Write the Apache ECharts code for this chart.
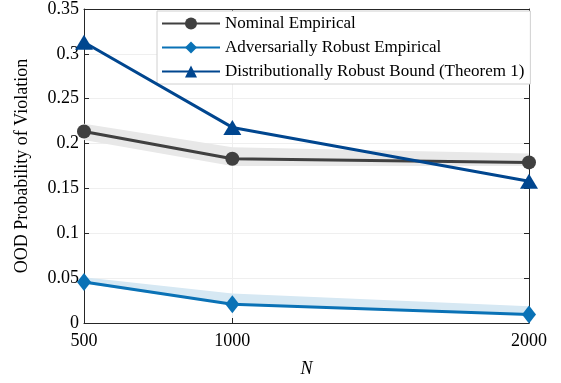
<!DOCTYPE html>
<html>
<head>
<meta charset="utf-8">
<script src="https://cdn.jsdelivr.net/npm/echarts@6/dist/echarts.min.js"></script>
<style>html,body{margin:0;padding:0;background:#fff}#c{width:561px;height:383px}</style>
</head>
<body>
<div id="c"></div>
<script>
var N = [500, 1000, 2000];
var nominal = [0.2135, 0.1830, 0.1790];
var nominalLow = [0.2040, 0.1750, 0.1750];
var nominalHigh = [0.2220, 0.1960, 0.1890];
var adversarial = [0.0456, 0.0210, 0.0095];
var advLow = [0.0440, 0.0200, 0.0090];
var advHigh = [0.0510, 0.0330, 0.0186];
var drBound = [0.3130, 0.2180, 0.1580];
var yTicks = [0, 0.05, 0.1, 0.15, 0.2, 0.25, 0.3, 0.35];

var FONT = '"Liberation Serif", "DejaVu Serif", serif';
function pairs(a){ return N.map(function(x,i){ return [x, a[i]]; }); }

function bandSeries(low, high, color){
  return {
    type:'custom', silent:true, z:1,
    data:[0],
    renderItem:function(params, api){
      var pts = [];
      for (var i=0;i<N.length;i++) pts.push(api.coord([N[i], high[i]]));
      for (var j=N.length-1;j>=0;j--) pts.push(api.coord([N[j], low[j]]));
      return {type:'polygon', shape:{points:pts}, style:{fill:color}};
    }
  };
}

var chart = echarts.init(document.getElementById('c'));
var axisLineStyle = {color:'#262626', width:1};
chart.setOption({
  animation:false,
  textStyle:{fontFamily:FONT},
  grid:{left:84, right:32, top:6, bottom:57.5, containLabel:false},
  legend:{
    data:['Nominal Empirical','Adversarially Robust Empirical','Distributionally Robust Bound (Theorem 1)'],
    orient:'vertical', left:157, top:11,
    itemWidth:58, itemHeight:15, itemGap:7,
    padding:[4,6,4,4],
    backgroundColor:'#fff', borderColor:'#d0d0d0', borderWidth:1,
    textStyle:{fontFamily:FONT, fontSize:17, color:'#000'}
  },
  xAxis:[{
    type:'value', min:500, max:2000,
    name:'N', nameLocation:'middle', nameGap:37,
    nameTextStyle:{fontFamily:FONT, fontSize:18, fontStyle:'italic', color:'#000'},
    axisLine:{show:true, onZero:false, lineStyle:axisLineStyle},
    axisTick:{show:true, inside:true, length:5, customValues:N, lineStyle:axisLineStyle},
    axisLabel:{customValues:N, fontFamily:FONT, fontSize:18, color:'#000', margin:9,
      formatter:function(v){ return String(v); }},
    splitLine:{show:true, lineStyle:{color:'#efefef', width:1}}
  },{
    type:'value', min:500, max:2000, position:'top',
    axisLine:{show:true, onZero:false, lineStyle:axisLineStyle},
    axisTick:{show:true, inside:true, length:5, customValues:N, lineStyle:axisLineStyle},
    axisLabel:{show:false}, splitLine:{show:false}
  }],
  yAxis:[{
    type:'value', min:0, max:0.35, interval:0.05,
    name:'OOD Probability of Violation', nameLocation:'middle', nameGap:53,
    nameTextStyle:{fontFamily:FONT, fontSize:18, color:'#000'},
    axisLine:{show:true, lineStyle:axisLineStyle},
    axisTick:{show:true, inside:true, length:5, lineStyle:axisLineStyle},
    axisLabel:{fontFamily:FONT, fontSize:18, color:'#000', margin:5,
      formatter:function(v){ var r = Math.round(v*100)/100; return String(r); }},
    splitLine:{show:true, lineStyle:{color:'#efefef', width:1}}
  },{
    type:'value', min:0, max:0.35, interval:0.05, position:'right',
    axisLine:{show:true, lineStyle:axisLineStyle},
    axisTick:{show:true, inside:true, length:5, lineStyle:axisLineStyle},
    axisLabel:{show:false}, splitLine:{show:false}
  }],
  series:[
    bandSeries(nominalLow, nominalHigh, '#e8e8e8'),
    bandSeries(advLow, advHigh, '#d6e8f3'),
    {name:'Nominal Empirical', type:'line', data:pairs(nominal), symbol:'circle', symbolSize:14,
      itemStyle:{color:'#404040'}, lineStyle:{color:'#404040', width:3}, z:3},
    {name:'Adversarially Robust Empirical', type:'line', data:pairs(adversarial), symbol:'diamond', symbolSize:[14,18],
      itemStyle:{color:'#0a72b6'}, lineStyle:{color:'#0a72b6', width:3}, z:3},
    {name:'Distributionally Robust Bound (Theorem 1)', type:'line', data:pairs(drBound), symbol:'triangle', symbolSize:[18,15],
      itemStyle:{color:'#00468f'}, lineStyle:{color:'#00468f', width:3}, z:4}
  ]
});
</script>
</body>
</html>
